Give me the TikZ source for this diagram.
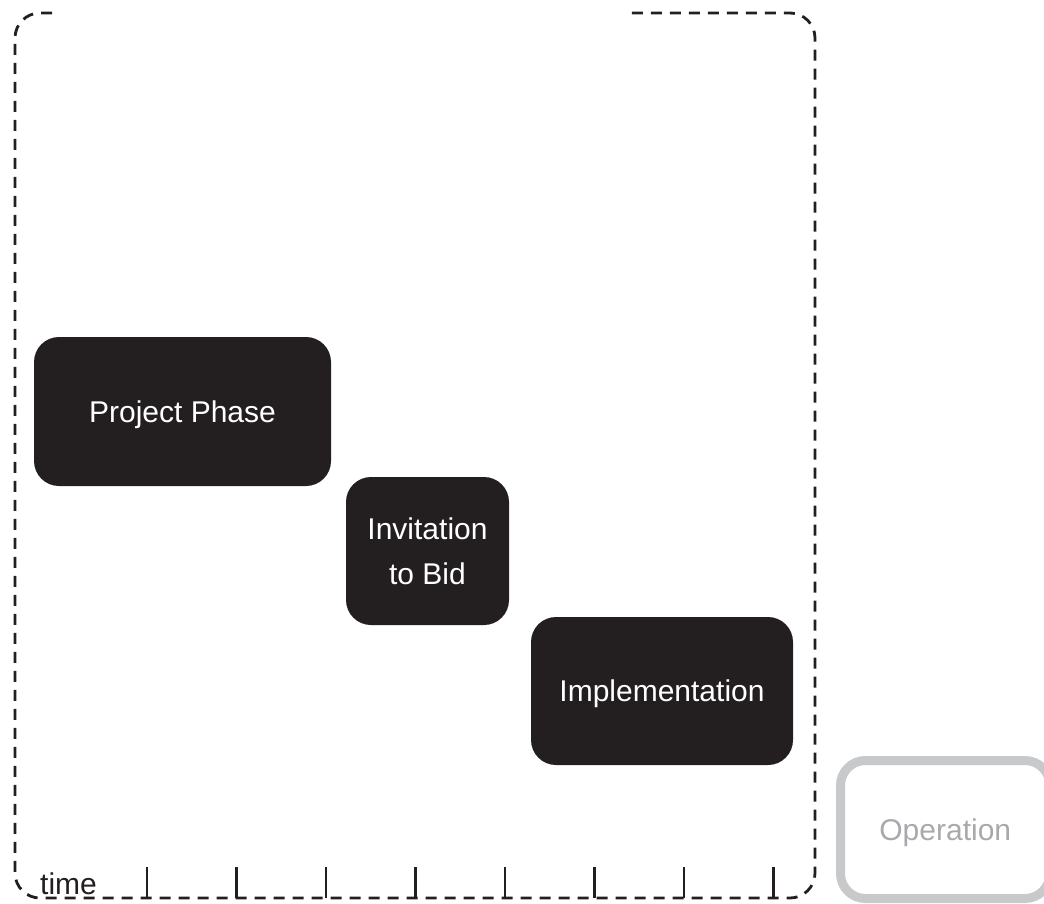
\documentclass[tikz,border=0pt]{standalone}
\usepackage{fontspec}
\setmainfont{Liberation Sans}
\definecolor{boxdark}{HTML}{231F20}
\definecolor{opgrey}{HTML}{C8C9CB}
\definecolor{optext}{HTML}{A7A9AC}
\begin{document}
\begin{tikzpicture}[x=1pt,y=-1pt,
  phasebox/.style={rectangle, rounded corners=25pt, fill=boxdark, text=white,
    font=\fontsize{30}{45}\selectfont, align=center, inner sep=0pt},
  oneline/.style={text height=21.5pt, text depth=0pt},
  opbox/.style={rectangle, rounded corners=25pt, draw=opgrey, line width=9pt,
    text=optext, font=\fontsize{30}{36}\selectfont, inner sep=0pt,
    text height=21.5pt, text depth=0pt},
  frameline/.style={draw=boxdark, line width=2.8pt, dash pattern=on 11pt off 8pt},
  tickline/.style={draw=boxdark, line width=2.8pt},
  timelabel/.style={font=\fontsize{30}{36}\selectfont, text=boxdark, inner sep=0pt}]
\useasboundingbox (0,0) rectangle (1044,903);
\clip (0,0) rectangle (1044,903);
% dashed frame, open at the top
\coordinate (fa) at (52,13);
\coordinate (fb) at (15,13);
\coordinate (fc) at (15,898);
\coordinate (fd) at (815,898);
\coordinate (fe) at (815,13);
\coordinate (ff) at (630,13);
\draw[frameline, rounded corners=25pt] (fa) -- (fb) -- (fc) -- (fd) -- (fe) -- (ff);
% time ticks
\foreach \i in {0,...,7} {
  \coordinate (ttop\i) at ({147+89.5*\i},867);
  \coordinate (tbot\i) at ({147+89.5*\i},898);
  \draw[tickline] (ttop\i) -- (tbot\i);
}
\node[timelabel, anchor=base west] (time) at (40,894) {time};
% phases
\node[phasebox, oneline, minimum width=297pt, minimum height=149pt] (project) at (182.5,411.5) {Project Phase};
\node[phasebox, minimum width=163pt, minimum height=148pt] (bid) at (427.5,551) {Invitation\\to Bid};
\node[phasebox, oneline, minimum width=262pt, minimum height=148pt] (impl) at (662,691) {Implementation};
\node[opbox, minimum width=209.5pt, minimum height=138pt] (oper) at (945.25,829.5) {Operation};
\end{tikzpicture}
\end{document}
